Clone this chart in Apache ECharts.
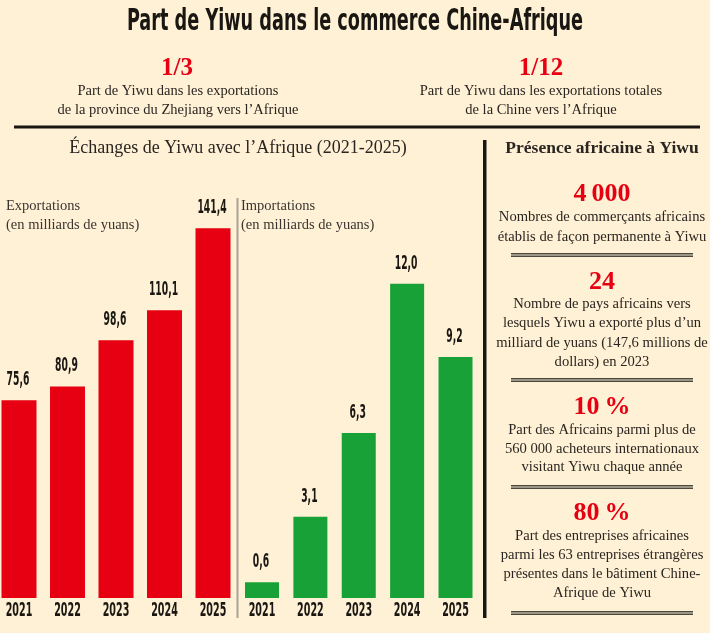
<!DOCTYPE html>
<html>
<head>
<meta charset="utf-8">
<title>Part de Yiwu dans le commerce Chine-Afrique</title>
<script src="https://cdn.jsdelivr.net/npm/echarts@6/dist/echarts.min.js"></script>
<style>
  html, body { margin: 0; padding: 0; background: #fff1d6; }
  #chart { width: 710px; height: 633px; }
</style>
</head>
<body>
<div id="chart"></div>
<script>
var years = ['2021', '2022', '2023', '2024', '2025'];
var exportations = [75.6, 80.9, 98.6, 110.1, 141.4];
var importations = [0.6, 3.1, 6.3, 12.0, 9.2];

var narrow = "'DejaVu Sans Condensed', 'Liberation Sans Narrow', sans-serif";
var serif = "'Liberation Serif', 'DejaVu Serif', serif";
var ink = '#1a1612';
var red = '#e60012';
var green = '#17a136';

// texte centré (scaleX pour imiter les polices condensées)
function txt(x, y, text, size, opts) {
    opts = opts || {};
    return {
        type: 'text',
        x: x, y: y,
        scaleX: opts.scaleX || 1,
        silent: true,
        style: {
            x: 0, y: 0,
            text: text,
            fill: opts.color || '#2a2520',
            font: (opts.weight || 'normal') + ' ' + size + 'px ' + (opts.family || serif),
            textAlign: opts.align || 'center',
            textVerticalAlign: 'middle'
        }
    };
}

function rule(y) {
    return {
        type: 'group',
        silent: true,
        children: [
            {type: 'rect', shape: {x: 511, y: y - 2, width: 182, height: 4}, style: {fill: '#9c9684'}},
            {type: 'line', shape: {x1: 511, y1: y - 1.5, x2: 693, y2: y - 1.5}, style: {stroke: '#4d483c', lineWidth: 1}},
            {type: 'line', shape: {x1: 511, y1: y + 1.5, x2: 693, y2: y + 1.5}, style: {stroke: '#4d483c', lineWidth: 1}}
        ]
    };
}

var graphics = [
    txt(355, 22, 'Part de Yiwu dans le commerce Chine-Afrique', 30, {family: narrow, weight: 'bold', color: ink, scaleX: 0.655}),
    txt(177, 69, '1/3', 25, {weight: 'bold', color: red}),
    txt(178, 91, 'Part de Yiwu dans les exportations', 14.5),
    txt(178, 110, 'de la province du Zhejiang vers l\u2019Afrique', 14.5),
    txt(541, 69, '1/12', 25, {weight: 'bold', color: red}),
    txt(541, 91, 'Part de Yiwu dans les exportations totales', 14.5),
    txt(541, 110, 'de la Chine vers l\u2019Afrique', 14.5),
    {type: 'rect', silent: true, shape: {x: 14, y: 125.5, width: 686, height: 3}, style: {fill: ink}},
    txt(238, 148, '\u00c9changes de Yiwu avec l\u2019Afrique (2021-2025)', 18),
    {type: 'rect', silent: true, shape: {x: 483, y: 140, width: 3.5, height: 478}, style: {fill: ink}},
    txt(602, 148, 'Pr\u00e9sence africaine \u00e0 Yiwu', 17.5, {weight: 'bold'}),
    {type: 'line', silent: true, shape: {x1: 237.5, y1: 198, x2: 237.5, y2: 618}, style: {stroke: '#aaa292', lineWidth: 2}},
    txt(6, 206, 'Exportations', 14.5, {align: 'left', color: '#3a3530'}),
    txt(6, 225, '(en milliards de yuans)', 14.5, {align: 'left', color: '#3a3530'}),
    txt(241, 206, 'Importations', 14.5, {align: 'left', color: '#3a3530'}),
    txt(241, 225, '(en milliards de yuans)', 14.5, {align: 'left', color: '#3a3530'}),

    txt(602, 194, '4\u2009000', 26, {weight: 'bold', color: red}),
    txt(602, 217, 'Nombres de commer\u00e7ants africains', 14.6),
    txt(602, 237, '\u00e9tablis de fa\u00e7on permanente \u00e0 Yiwu', 14.6),
    rule(255),
    txt(602, 282, '24', 26, {weight: 'bold', color: red}),
    txt(602, 304, 'Nombre de pays africains vers', 14.6),
    txt(602, 323, 'lesquels Yiwu a export\u00e9 plus d\u2019un', 14.6),
    txt(602, 343, 'milliard de yuans (147,6 millions de', 14.6),
    txt(602, 362, 'dollars) en 2023', 14.6),
    rule(380),
    txt(602, 407, '10\u2009%', 26, {weight: 'bold', color: red}),
    txt(602, 430, 'Part des Africains parmi plus de', 14.6),
    txt(602, 449, '560\u00a0000 acheteurs internationaux', 14.6),
    txt(602, 467, 'visitant Yiwu chaque ann\u00e9e', 14.6),
    rule(487),
    txt(602, 513, '80\u2009%', 26, {weight: 'bold', color: red}),
    txt(602, 536, 'Part des entreprises africaines', 14.6),
    txt(602, 555, 'parmi les 63 entreprises \u00e9trang\u00e8res', 14.6),
    txt(602, 574, 'pr\u00e9sentes dans le b\u00e2timent Chine-', 14.6),
    txt(602, 593, 'Afrique de Yiwu', 14.6),
    rule(613)
];

// valeurs et années en police condensée : positions tirées des axes
function renderLabels(params, api) {
    var i = api.value(0);
    var v = api.value(1);
    var top = api.coord([i, v]);
    var base = api.coord([i, 0]);
    var font = 'bold 19px ' + narrow;
    return {
        type: 'group',
        children: [
            {
                type: 'text', x: top[0] - 1, y: top[1] - 20, scaleX: 0.54,
                style: {x: 0, y: 0, text: v.toFixed(1).replace('.', ','), font: font,
                        fill: ink, textAlign: 'center', textVerticalAlign: 'middle'}
            },
            {
                type: 'text', x: base[0], y: base[1] + 13, scaleX: 0.56,
                style: {x: 0, y: 0, text: years[i], font: font,
                        fill: ink, textAlign: 'center', textVerticalAlign: 'middle'}
            }
        ]
    };
}

function pairs(values) {
    return values.map(function (v, i) { return [i, v]; });
}

var myChart = echarts.init(document.getElementById('chart'));

// grilles : centre de la 1re à la 5e barre
var option = {
    backgroundColor: '#fff1d6',
    animation: false,
    graphic: graphics,
    grid: [
        {left: 19, top: 198, width: 194, height: 400},
        {left: 262, top: 198, width: 193.5, height: 400}
    ],
    xAxis: [
        {type: 'category', gridIndex: 0, data: years, boundaryGap: false, show: false},
        {type: 'category', gridIndex: 1, data: years, boundaryGap: false, show: false}
    ],
    yAxis: [
        {type: 'value', gridIndex: 0, min: 0, max: 153, show: false, splitLine: {show: false}},
        {type: 'value', gridIndex: 1, min: 0, max: 15.27, show: false, splitLine: {show: false}}
    ],
    series: [
        {
            name: 'Exportations',
            type: 'bar',
            xAxisIndex: 0, yAxisIndex: 0,
            data: exportations,
            barWidth: 35,
            clip: false,
            itemStyle: {color: red}
        },
        {
            name: 'Importations',
            type: 'bar',
            xAxisIndex: 1, yAxisIndex: 1,
            data: importations,
            barWidth: 34,
            clip: false,
            itemStyle: {color: green}
        },
        {
            type: 'custom',
            xAxisIndex: 0, yAxisIndex: 0,
            data: pairs(exportations),
            renderItem: renderLabels,
            clip: false,
            silent: true
        },
        {
            type: 'custom',
            xAxisIndex: 1, yAxisIndex: 1,
            data: pairs(importations),
            renderItem: renderLabels,
            clip: false,
            silent: true
        }
    ]
};

myChart.setOption(option);
</script>
</body>
</html>
